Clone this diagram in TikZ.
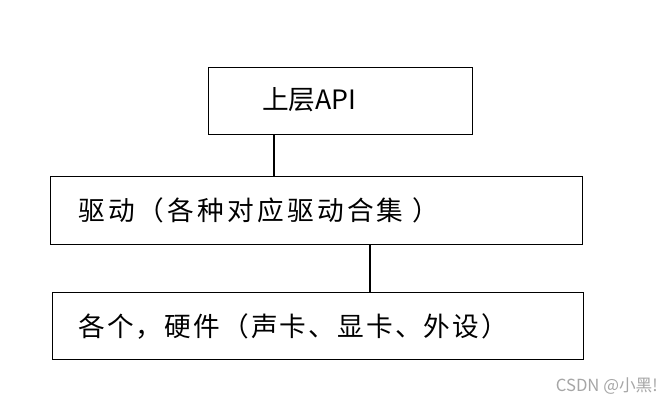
\documentclass[tikz,border=0pt]{standalone}
\usepackage{fontspec}
\newfontfamily\cjk{Noto Sans CJK SC}
\begin{document}
\begin{tikzpicture}[x=0.75pt,y=-0.75pt,
  boxs/.style={draw=black,line width=0.8pt},
  lbl/.style={font=\cjk\fontsize{20}{24}\selectfont,anchor=west,inner sep=0pt}]
\useasboundingbox[fill=white] (0,0) rectangle (672,405);
\node[boxs,minimum width=264pt*0.75,minimum height=67pt*0.75,anchor=north west] (a) at (208,67) {};
\node[boxs,minimum width=532pt*0.75,minimum height=68pt*0.75,anchor=north west] (b) at (50,176) {};
\node[boxs,minimum width=531pt*0.75,minimum height=67pt*0.75,anchor=north west] (c) at (52,292) {};
\node[lbl] (ta) at (262,100) {上层API};
\node[lbl,font=\cjk\fontsize{20}{24}\selectfont\addfontfeature{LetterSpace=12}] (tb) at (78,210) {驱动（各种对应驱动合集 ）};
\node[lbl,font=\cjk\fontsize{20}{24}\selectfont\addfontfeature{LetterSpace=8}] (tc) at (78,327) {各个，硬件（声卡、显卡、外设）};
\coordinate (p1) at (274,134); \coordinate (p2) at (274,176);
\coordinate (q1) at (370,244); \coordinate (q2) at (370,292);
\draw[line width=0.8pt] (p1) -- (p2);
\draw[line width=0.8pt] (q1) -- (q2);
\node[font=\cjk\fontsize{12.5}{14}\selectfont,text=gray!70,anchor=east,inner sep=0pt] (w) at (658,386) {CSDN @小黑!};
\end{tikzpicture}
\end{document}
